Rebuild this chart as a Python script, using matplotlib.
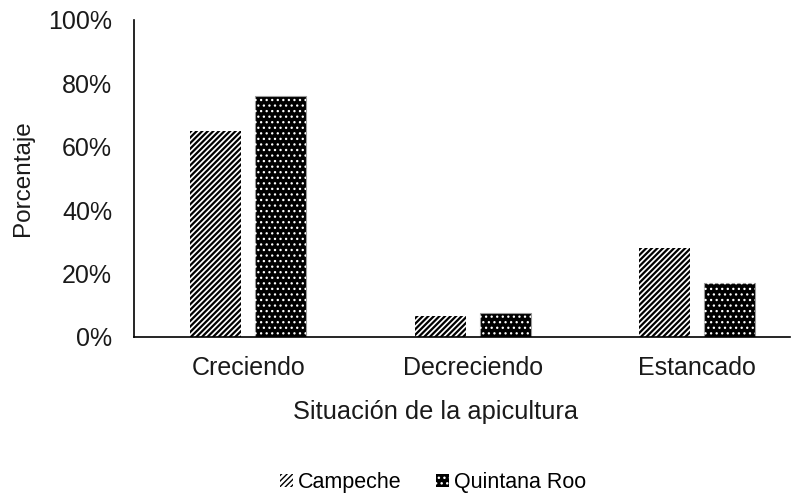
import matplotlib.pyplot as plt
import numpy as np
from matplotlib.patches import Patch

plt.rcParams['font.family'] = ['Liberation Sans', 'DejaVu Sans']

categorias = ['Creciendo', 'Decreciendo', 'Estancado']
campeche = [65, 6.5, 28]
quintana_roo = [76, 7.5, 17]

fig = plt.figure(figsize=(7.99, 4.96), dpi=100)
ax = fig.add_axes([0.168, 0.3206, 0.821, 0.6394])

x = np.arange(len(categorias))
w = 0.227
off = 0.145

# Campeche: rayas diagonales
with plt.rc_context({'hatch.linewidth': 1.6}):
    ax.bar(x - off, campeche, w, color='white', edgecolor='black',
           hatch='//////', linewidth=0)
    h_camp = Patch(facecolor='white', edgecolor='black', hatch='//////', linewidth=0)

# Quintana Roo: fondo negro con puntos blancos
ax.bar(x + off, quintana_roo, w, color='black', edgecolor='#999999', linewidth=0.8)
with plt.rc_context({'hatch.linewidth': 0.9}):
    ax.bar(x + off, quintana_roo, w, color='none', edgecolor='white',
           hatch='...', linewidth=0)
    h_qr = Patch(facecolor='black', edgecolor='white', hatch='...', linewidth=0)

ax.set_ylim(0, 100)
ax.set_xlim(-0.508, 2.414)
ax.set_yticks(np.arange(0, 101, 20))
ax.set_yticklabels([f'{v}%' for v in range(0, 101, 20)])
ax.set_xticks(x)
ax.set_xticklabels(categorias)
ax.tick_params(axis='both', length=0, labelsize=18, colors='#1a1a1a')
ax.tick_params(axis='y', pad=16)
ax.tick_params(axis='x', pad=14)

for s in ['top', 'right']:
    ax.spines[s].set_visible(False)
ax.spines['left'].set_linewidth(1.2)
ax.spines['bottom'].set_linewidth(1.2)

ax.set_ylabel('Porcentaje', fontsize=17.5, color='#1a1a1a', labelpad=10)
ax.set_xlabel('Situación de la apicultura', fontsize=18.3, color='#1a1a1a')
ax.xaxis.set_label_coords(0.46, -0.2)

fig.legend([h_camp, h_qr], ['Campeche', 'Quintana Roo'], loc='center',
           bbox_to_anchor=(0.542, 0.027), ncol=2, frameon=False, fontsize=15.5,
           handlelength=0.6, handleheight=0.6, handletextpad=0.25, columnspacing=1.6)

fig.savefig('out.png', dpi=100)
